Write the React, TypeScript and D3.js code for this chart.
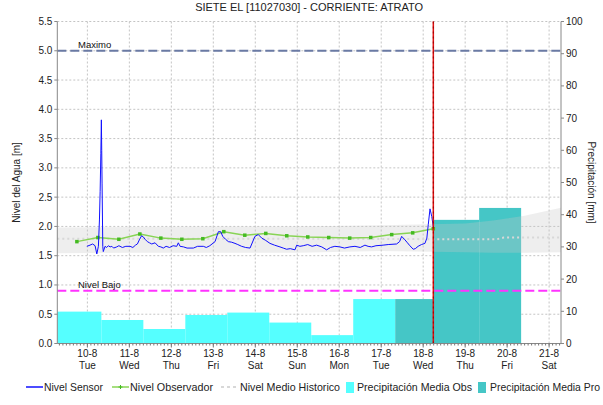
import React from "react";
import * as d3 from "d3";

// ── Data (hours from 10-8 00:00) ──────────────────────────────────────────────

const DAY_LABELS = ["10-8", "11-8", "12-8", "13-8", "14-8", "15-8", "16-8", "17-8", "18-8", "19-8", "20-8", "21-8"];
const WEEKDAYS = ["Tue", "Wed", "Thu", "Fri", "Sat", "Sun", "Mon", "Tue", "Wed", "Thu", "Fri", "Sat"];
const LEVEL_TICKS = [0, 0.5, 1, 1.5, 2, 2.5, 3, 3.5, 4, 4.5, 5, 5.5];
const PRECIP_TICKS = [0, 10, 20, 30, 40, 50, 60, 70, 80, 90, 100];

const START_H = -17.2;
const END_H = 270.8;
const NOW_H = 197.8;
const MAXIMO = 5.0;
const NIVEL_BAJO = 0.9;

const sensor: [number, number][] = [
  [-0.3, 1.66], [1.5, 1.68], [3, 1.7], [4.4, 1.67], [5.4, 1.53], [6.3, 1.66], [6.9, 2.11], [7.3, 2.6],
  [7.7, 3.25], [8.0, 3.82], [8.2, 3.3], [8.4, 2.74], [8.8, 1.66], [9.1, 1.57], [10.1, 1.66], [11, 1.64],
  [12, 1.67], [13, 1.65], [14, 1.66], [15, 1.63], [16.8, 1.65], [18, 1.67], [20, 1.64], [22, 1.66],
  [24.4, 1.66], [26, 1.64], [27.5, 1.68], [28.6, 1.7], [29.7, 1.77], [31, 1.84], [32, 1.82], [33, 1.78],
  [34.3, 1.74], [35.5, 1.72], [36.8, 1.7], [38.7, 1.72], [40.6, 1.66], [42, 1.65], [43.4, 1.63], [45, 1.66],
  [47, 1.64], [49, 1.67], [51.1, 1.66], [52, 1.72], [53, 1.66], [55, 1.65], [57, 1.63], [60.6, 1.63],
  [63, 1.66], [66.3, 1.66], [68, 1.64], [70, 1.67], [73, 1.74], [74.9, 1.91], [76.2, 1.91], [77.4, 1.83],
  [79, 1.78], [80.6, 1.74], [82.5, 1.73], [84.4, 1.71], [86, 1.69], [88.2, 1.66], [90.5, 1.64], [93, 1.63],
  [95.8, 1.83], [97.7, 1.86], [99.7, 1.8], [102, 1.76], [104.4, 1.71], [107, 1.68], [110.1, 1.65], [112, 1.63],
  [113.9, 1.61], [116, 1.62], [118.7, 1.6], [119.7, 1.68], [121.5, 1.66], [123.4, 1.67], [126, 1.69], [128.5, 1.66],
  [131.1, 1.68], [134, 1.65], [136.8, 1.6], [139, 1.64], [141.5, 1.66], [144.4, 1.65], [147, 1.63], [150.1, 1.65],
  [153, 1.66], [156, 1.64], [158.7, 1.68], [160.5, 1.66], [162.5, 1.65], [165, 1.67], [169.1, 1.68], [172, 1.69],
  [176.8, 1.7], [178.5, 1.74], [179.7, 1.83], [181.6, 1.77], [183, 1.72], [184.4, 1.67], [186.3, 1.61], [187.5, 1.62],
  [189.1, 1.66], [191, 1.69], [193, 1.71], [194.1, 1.8], [194.9, 2.03], [195.9, 2.3], [196.9, 2.17], [197.8, 1.99],
];

const observer: [number, number][] = [
  [-6, 1.74], [6, 1.81], [18, 1.78], [30, 1.87], [42, 1.8], [54, 1.78], [66, 1.79], [78, 1.91], [90, 1.85],
  [102, 1.88], [114, 1.84], [126, 1.82], [138, 1.81], [150, 1.8], [162, 1.81], [174, 1.86], [186, 1.89], [197.8, 1.96],
];

const histHours = [-17.2, 24, 72, 120, 168, 216, 232, 250, 270.8];
const histMax = [1.98, 1.99, 2.0, 2.0, 2.02, 2.05, 2.1, 2.18, 2.32];
const histMin = [1.54, 1.55, 1.55, 1.55, 1.58, 1.56, 1.55, 1.55, 1.56];
const histMedHours = [-17.2, 120, 216, 234, 238, 270.8];
const histMed = [1.79, 1.79, 1.78, 1.78, 1.81, 1.81];

// precipitation, 08:00 to 08:00 (first one clipped at the chart start)
const precipObs: [number, number, number][] = [
  [-40, 8, 9.9], [8, 32, 7.3], [32, 56, 4.5], [56, 80, 8.85], [80, 104, 9.6], [104, 128, 6.5], [128, 152, 2.6], [152, 176, 13.8],
];
const precipPro: [number, number, number][] = [
  [176, NOW_H, 13.8], [NOW_H, 224, 38.4], [224, 248, 42.1],
];

const legendItems = [
  { label: "Nivel Sensor", x: 44, w: 59 },
  { label: "Nivel Observador", x: 130, w: 83 },
  { label: "Nivel Medio Historico", x: 240, w: 100 },
  { label: "Precipitación Media Obs", x: 357, w: 115 },
  { label: "Precipitación Media Pro", x: 490, w: 110 },
];

// ── Layout ────────────────────────────────────────────────────────────────────

const W = 603;
const H = 405;
const M = { left: 57.3, right: 561, top: 21.5, bottom: 343.5 };
const FONT = "'Liberation Sans', Arial, sans-serif";

export default function App() {
  const x = d3.scaleLinear().domain([START_H, END_H]).range([M.left, M.right]);
  const y = d3.scaleLinear().domain([0, 5.5]).range([M.bottom, M.top]);
  const yp = d3.scaleLinear().domain([0, 100]).range([M.bottom, M.top]);

  const dayHours = DAY_LABELS.map((_, i) => i * 24);
  const minor = d3.range(Math.ceil(START_H / 2) * 2, END_H, 2);
  const clip = (h: number) => Math.max(START_H, Math.min(END_H, h));

  const line = d3.line<[number, number]>().x((d) => x(d[0])).y((d) => y(d[1]));
  const band = d3
    .area<number>()
    .x((_, i) => x(histHours[i]))
    .y0((_, i) => y(histMin[i]))
    .y1((_, i) => y(histMax[i]));
  const medLine = d3.line<number>().x((_, i) => x(histMedHours[i])).y((d) => y(d));

  const legendY = 391;

  return (
    <svg width={W} height={H} style={{ position: "absolute", left: 0, top: 0, fontFamily: FONT }}>
      <rect width={W} height={H} fill="#fff" />
      <text x={(M.left + M.right) / 2} y={11} textAnchor="middle" fontSize={11} fill="#222">
        SIETE EL [11027030] - CORRIENTE: ATRATO
      </text>

      {/* grid */}
      {LEVEL_TICKS.map((t) => (
        <line key={"gy" + t} x1={M.left} x2={M.right} y1={y(t)} y2={y(t)} stroke="#c4c4c4" strokeDasharray="2,2" />
      ))}
      {dayHours.map((h) => (
        <line key={"gx" + h} x1={x(h)} x2={x(h)} y1={M.top} y2={M.bottom} stroke="#c4c4c4" strokeDasharray="2,2" />
      ))}

      {/* precipitation */}
      {precipObs.map(([a, b, v], i) => (
        <rect key={"po" + i} x={x(clip(a))} width={x(clip(b)) - x(clip(a))} y={yp(v)} height={yp(0) - yp(v)} fill="#55ffff" />
      ))}
      {precipPro.map(([a, b, v], i) => (
        <rect key={"pp" + i} x={x(clip(a))} width={x(clip(b)) - x(clip(a))} y={yp(v)} height={yp(0) - yp(v)} fill="#45c6c6" />
      ))}

      {/* historic band */}
      <path d={band(histHours) ?? ""} fill="#c8c8c8" opacity={0.3} />
      <path d={medLine(histMed) ?? ""} fill="none" stroke="#d8d8d8" strokeWidth={2} strokeDasharray="2,3" />

      {/* thresholds */}
      <line x1={M.left} x2={M.right} y1={y(MAXIMO)} y2={y(MAXIMO)} stroke="#6a7aa4" strokeWidth={2} strokeDasharray="9,4" />
      <text x={78} y={y(MAXIMO) - 3} fontSize={9.5} fill="#111">Maximo</text>
      <line x1={M.left} x2={M.right} y1={y(NIVEL_BAJO)} y2={y(NIVEL_BAJO)} stroke="#ff33ff" strokeWidth={2} strokeDasharray="9,4" />
      <text x={78} y={y(NIVEL_BAJO) - 3} fontSize={9.5} fill="#111">Nivel Bajo</text>

      {/* series */}
      <path d={line(observer) ?? ""} fill="none" stroke="#88d455" strokeWidth={1.5} />
      {observer.map(([h, v], i) => (
        <rect key={"ob" + i} x={x(h) - 1.75} y={y(v) - 1.75} width={3.5} height={3.5} fill="#44bb22" />
      ))}
      <path d={line(sensor) ?? ""} fill="none" stroke="#1010ff" strokeWidth={1} />

      {/* now */}
      <line x1={x(NOW_H)} x2={x(NOW_H)} y1={M.top} y2={M.bottom} stroke="#e01010" strokeWidth={1.5} />
      <line x1={x(NOW_H)} x2={x(NOW_H)} y1={M.top} y2={M.bottom} stroke="#900" strokeWidth={1} strokeDasharray="2,3" />

      {/* axes */}
      <line x1={M.left} x2={M.left} y1={M.top} y2={M.bottom} stroke="#888" />
      <line x1={M.right} x2={M.right} y1={M.top} y2={M.bottom} stroke="#888" />
      <line x1={M.left} x2={M.right} y1={M.bottom} y2={M.bottom} stroke="#888" />
      {LEVEL_TICKS.map((t) => (
        <g key={"ly" + t}>
          <line x1={M.left - 3} x2={M.left} y1={y(t)} y2={y(t)} stroke="#888" />
          <text x={M.left - 5} y={y(t)} dy="0.35em" textAnchor="end" fontSize={10} fill="#222">
            {d3.format(".1f")(t)}
          </text>
        </g>
      ))}
      {PRECIP_TICKS.map((t) => (
        <g key={"py" + t}>
          <line x1={M.right} x2={M.right + 3} y1={yp(t)} y2={yp(t)} stroke="#888" />
          <text x={M.right + 5} y={yp(t)} dy="0.35em" fontSize={10} fill="#222">
            {t}
          </text>
        </g>
      ))}
      {minor.map((h) => (
        <line key={"mn" + h} x1={x(h)} x2={x(h)} y1={M.bottom} y2={M.bottom + 2} stroke="#777" />
      ))}
      {dayHours.map((h, i) => (
        <g key={"lx" + h}>
          <line x1={x(h)} x2={x(h)} y1={M.bottom} y2={M.bottom + 4} stroke="#777" />
          <text x={x(h)} y={357} textAnchor="middle" fontSize={10} fill="#222">{DAY_LABELS[i]}</text>
          <text x={x(h)} y={369} textAnchor="middle" fontSize={10} fill="#222">{WEEKDAYS[i]}</text>
        </g>
      ))}
      <text transform={`translate(20,${(M.top + M.bottom) / 2}) rotate(-90)`} textAnchor="middle" fontSize={10} fill="#222">
        Nivel del Agua [m]
      </text>
      <text transform={`translate(588,${(M.top + M.bottom) / 2}) rotate(90)`} textAnchor="middle" fontSize={10} fill="#222">
        Precipitación [mm]
      </text>

      {/* legend */}
      <g fontSize={10.5} fill="#222">
        <line x1={26} x2={43} y1={legendY - 4} y2={legendY - 4} stroke="#1010ff" strokeWidth={1.5} />
        <line x1={112} x2={129} y1={legendY - 4} y2={legendY - 4} stroke="#88d455" strokeWidth={1.5} />
        <path d={`M${120.5},${legendY - 6}v4M${118.5},${legendY - 4}h4`} stroke="#44bb22" strokeWidth={1} />
        <line x1={221} x2={238} y1={legendY - 4} y2={legendY - 4} stroke="#ccc" strokeWidth={1.5} strokeDasharray="3,3" />
        <rect x={346} y={legendY - 9} width={8} height={11} fill="#55ffff" />
        <rect x={478} y={legendY - 9} width={8} height={11} fill="#45c6c6" />
        {legendItems.map((d) => (
          <text key={d.label} x={d.x} y={legendY} textLength={d.w} lengthAdjust="spacingAndGlyphs">
            {d.label}
          </text>
        ))}
      </g>
    </svg>
  );
}
